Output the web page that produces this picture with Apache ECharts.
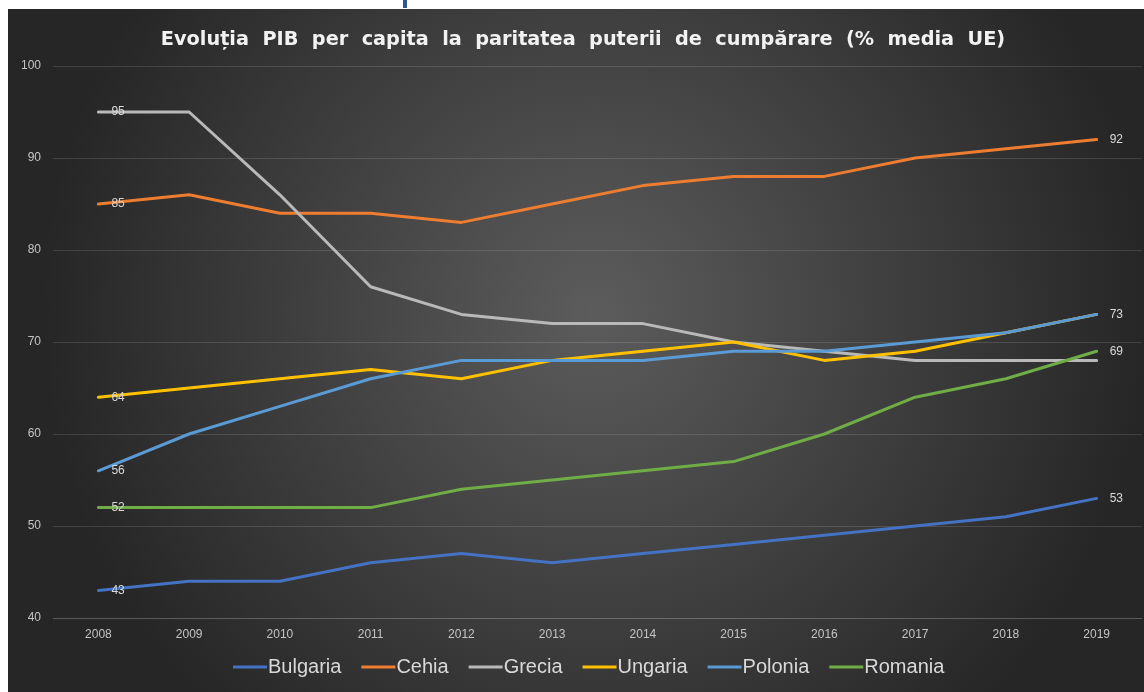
<!DOCTYPE html>
<html>
<head>
<meta charset="utf-8">
<script src="https://cdn.jsdelivr.net/npm/echarts@6/dist/echarts.min.js"></script>
<style>
html,body{margin:0;padding:0;background:#fff;}
#main{width:1144px;height:692px;}
</style>
</head>
<body>
<div id="main"></div>
<script>
var years = ['2008','2009','2010','2011','2012','2013','2014','2015','2016','2017','2018','2019'];
var bulgaria = [43,44,44,46,47,46,47,48,49,50,51,53];
var cehia    = [85,86,84,84,83,85,87,88,88,90,91,92];
var grecia   = [95,95,86,76,73,72,72,70,69,68,68,68];
var ungaria  = [64,65,66,67,66,68,69,70,68,69,71,73];
var polonia  = [56,60,63,66,68,68,68,69,69,70,71,73];
var romania  = [52,52,52,52,54,55,56,57,60,64,66,69];
var seriesNames = ['Bulgaria','Cehia','Grecia','Ungaria','Polonia','Romania'];
var seriesData = [bulgaria, cehia, grecia, ungaria, polonia, romania];
var seriesColors = ['#4472c4','#ed7d31','#b9b9b9','#ffc000','#5b9bd5','#70ad47'];
var showLastLabel = [true, true, false, false, true, true];

var chart = echarts.init(document.getElementById('main'));
var series = seriesNames.map(function(name, i){
  var last = seriesData[i].length - 1;
  return {
    name: name,
    type: 'line',
    data: seriesData[i],
    symbol: 'circle',
    symbolSize: 0,
    showSymbol: true,
    smooth: false,
    lineStyle: {width: 3, color: seriesColors[i], cap: 'round', join: 'round'},
    itemStyle: {color: seriesColors[i]},
    label: {
      show: true,
      position: 'right',
      distance: 13,
      color: '#d9d9d9',
      fontSize: 12,
      fontFamily: 'Liberation Sans',
      formatter: function(p){
        if (p.dataIndex === 0) return String(p.value);
        if (p.dataIndex === last && showLastLabel[i]) return String(p.value);
        return '';
      }
    },
    emphasis: {disabled: true}
  };
});

chart.setOption({
  animation: false,
  backgroundColor: {
    type: 'radial', x: 0.52, y: 0.45, r: 0.8,
    colorStops: [{offset: 0, color: '#5c5c5c'}, {offset: 1, color: '#262626'}]
  },
  title: {
    text: 'Evoluția  PIB  per  capita  la  paritatea  puterii  de  cumpărare  (%  media  UE)',
    left: 578, top: 25, textAlign: 'center',
    textStyle: {color: '#f2f2f2', fontSize: 19.3, fontWeight: 'bold', fontFamily: 'DejaVu Sans'}
  },
  legend: {
    data: seriesNames,
    left: 228, top: 652,
    icon: 'rect',
    itemWidth: 34, itemHeight: 3,
    itemGap: 20,
    textStyle: {color: '#d9d9d9', fontSize: 20, fontFamily: 'Liberation Sans', padding: [0,0,0,-4]}
  },
  grid: {left: 53, right: 2, top: 66, bottom: 74, containLabel: false},
  xAxis: {
    type: 'category',
    data: years,
    boundaryGap: true,
    axisLine: {show: true, lineStyle: {color: 'rgba(255,255,255,0.13)'}},
    axisTick: {show: false},
    axisLabel: {color: '#c4c4c4', fontSize: 12, fontFamily: 'Liberation Sans', margin: 11}
  },
  yAxis: {
    type: 'value',
    min: 40, max: 100, interval: 10,
    axisLine: {show: false},
    axisTick: {show: false},
    splitLine: {lineStyle: {color: 'rgba(255,255,255,0.13)', width: 1}},
    axisLabel: {color: '#c4c4c4', fontSize: 12, fontFamily: 'Liberation Sans', margin: 12}
  },
  graphic: [
    {type: 'rect', shape: {x: 0, y: 0, width: 1144, height: 9}, style: {fill: '#ffffff'}, z: 100},
    {type: 'rect', shape: {x: 0, y: 0, width: 8, height: 692}, style: {fill: '#ffffff'}, z: 100},
    {type: 'rect', shape: {x: 403, y: 0, width: 4, height: 8}, style: {fill: '#2f5597'}, z: 101}
  ],
  series: series
});
</script>
</body>
</html>
